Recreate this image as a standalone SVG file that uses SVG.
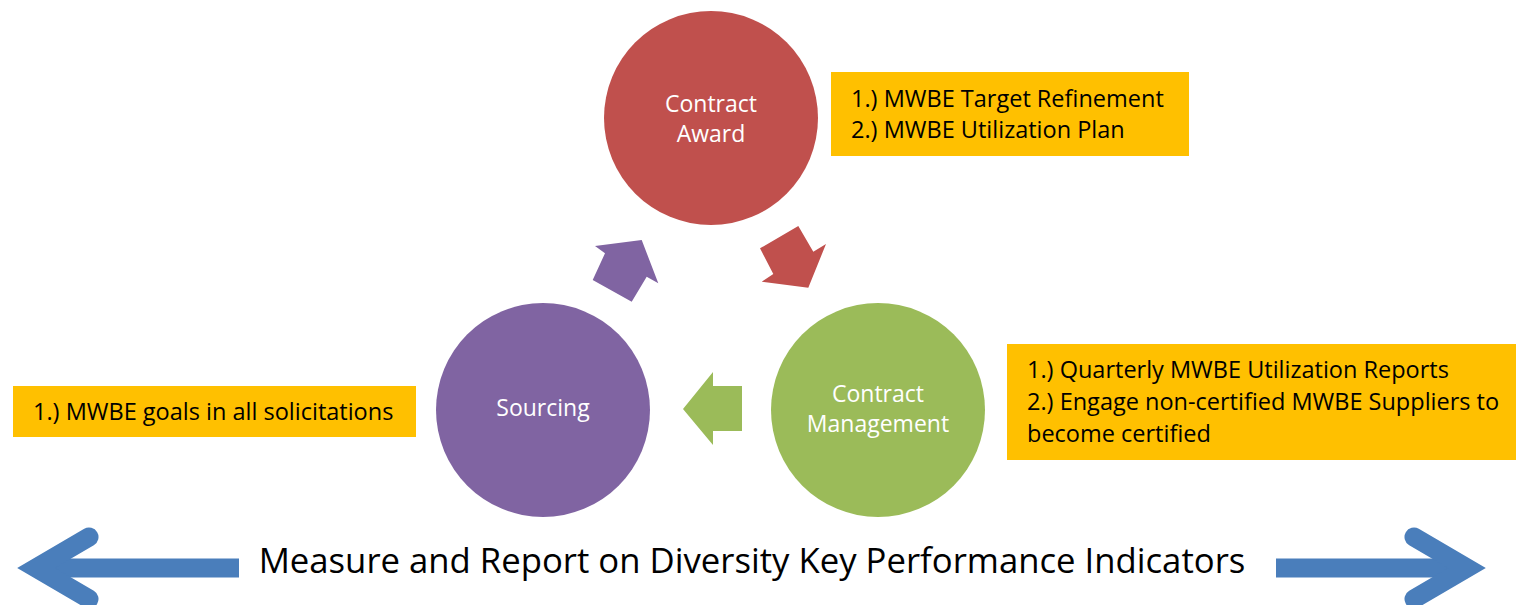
<svg xmlns="http://www.w3.org/2000/svg" width="1516" height="605" viewBox="0 0 1516 605">
<style>
.ctext{font-family:"Open Sans","Liberation Sans",sans-serif;font-size:23px;fill:#ffffff;text-anchor:middle}
.btext{font-family:"Open Sans","Liberation Sans",sans-serif;font-size:23.5px;fill:#000000}
.box{fill:#FFC000}
.blue{fill:none;stroke:#4A7EBB;stroke-width:19}
</style>
<rect width="1516" height="605" fill="#ffffff"/>
<g id="contract-award">
<circle cx="711" cy="118" r="107" fill="#C0504D"/>
<text class="ctext" x="711" y="112">Contract</text>
<text class="ctext" x="711" y="142">Award</text>
</g>
<g id="contract-management">
<circle cx="878" cy="410" r="107" fill="#9BBB59"/>
<text class="ctext" x="878" y="402">Contract</text>
<text class="ctext" x="878" y="432">Management</text>
</g>
<g id="sourcing">
<circle cx="543" cy="410" r="107" fill="#8064A2"/>
<text class="ctext" x="543" y="416">Sourcing</text>
</g>
<g id="award-notes">
<rect class="box" x="831" y="72" width="358" height="84"/>
<text class="btext" x="851" y="107">1.) MWBE Target Refinement</text>
<text class="btext" x="851" y="138">2.) MWBE Utilization Plan</text>
</g>
<g id="management-notes">
<rect class="box" x="1007" y="344" width="509" height="116"/>
<text class="btext" x="1027" y="378">1.) Quarterly MWBE Utilization Reports</text>
<text class="btext" x="1027" y="410">2.) Engage non-certified MWBE Suppliers to</text>
<text class="btext" x="1027" y="442">become certified</text>
</g>
<g id="sourcing-notes">
<rect class="box" x="13" y="386" width="403" height="51"/>
<text class="btext" x="33" y="420">1.) MWBE goals in all solicitations</text>
</g>
<g id="connectors">
<polygon fill="#8064A2" points="595,246 641.7,240 658.3,283.3 646.7,276.7 631.7,301.7 592.7,280 605,253.3"/>
<polygon fill="#C0504D" points="798.3,226 813.3,251.7 826,244 808.3,287.7 761.7,281.7 773.3,274 760,248.3"/>
<polygon fill="#9BBB59" points="683,409 713,372 713,386 742,386 742,431 713,431 713,445"/>
<g id="kpi-arrows">
<path class="blue" d="M36,568 H239"/>
<path class="blue" d="M89,537 L36,568 L89,599" stroke-linecap="round" stroke-linejoin="miter" stroke-miterlimit="10"/>
<path class="blue" d="M1276,568 H1467"/>
<path class="blue" d="M1414,537 L1467,568 L1414,599" stroke-linecap="round" stroke-linejoin="miter" stroke-miterlimit="10"/>
</g>
</g>
<text id="kpi-label" x="752" y="573" font-family="Open Sans, Liberation Sans, sans-serif" font-size="34.7" fill="#000000" text-anchor="middle">Measure and Report on Diversity Key Performance Indicators</text>
</svg>
